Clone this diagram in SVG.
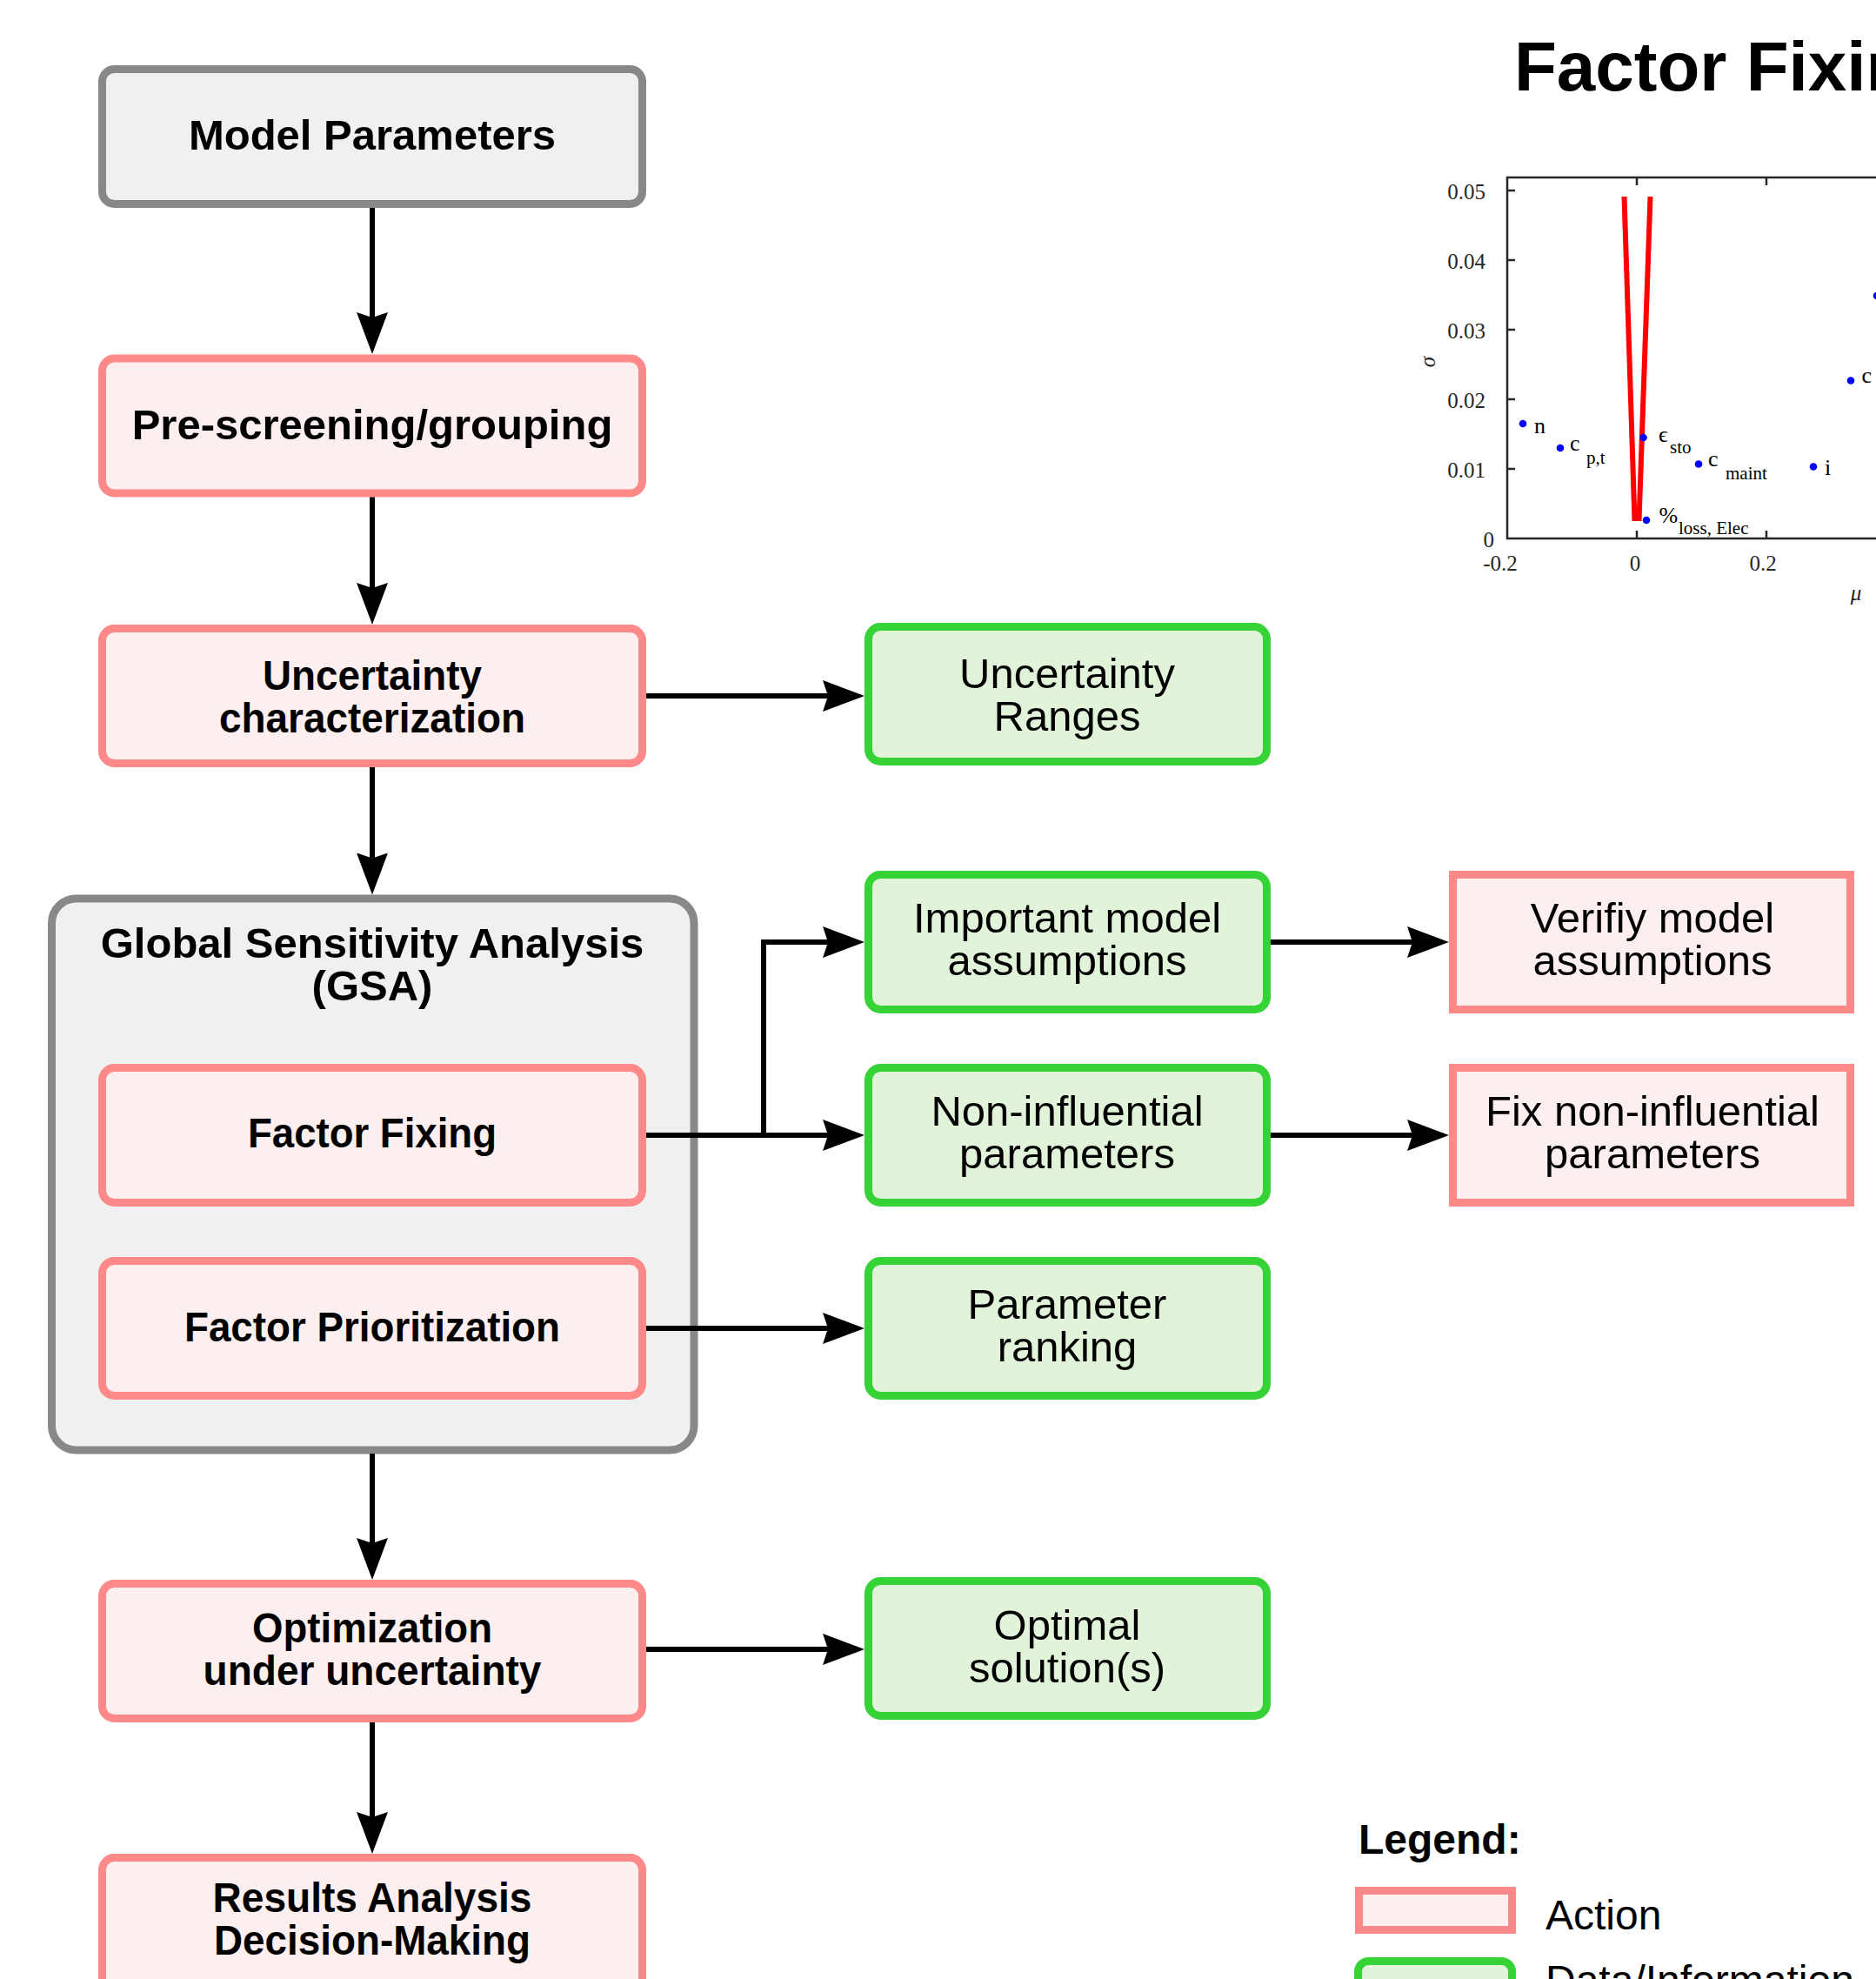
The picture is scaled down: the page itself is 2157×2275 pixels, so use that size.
<svg xmlns="http://www.w3.org/2000/svg" width="2157" height="2275" viewBox="0 0 2157 2275">
<style>
.act{fill:#fdefef;stroke:#ff8888;stroke-width:9}
.dat{fill:#e1f4d9;stroke:#36d336;stroke-width:9}
.grp{fill:#f0f0f0;stroke:#888888;stroke-width:9}
.b{font-family:"Liberation Sans",Arial,Helvetica,sans-serif;font-weight:bold;font-size:49px;text-anchor:middle;fill:#000}
.r{font-family:"Liberation Sans",Arial,Helvetica,sans-serif;font-size:49px;text-anchor:middle;fill:#000}
.conn{fill:none;stroke:#000;stroke-width:6;stroke-linejoin:miter}
.ax{font-family:"Liberation Serif","Times New Roman",serif;font-size:25px;fill:#262626}
.lb{font-family:"Liberation Serif","Times New Roman",serif;font-size:26px;fill:#000}
.sb{font-family:"Liberation Serif","Times New Roman",serif;font-size:21px;fill:#000}
.pt{fill:#0000ff}
</style>
<defs>
<marker id="ah" viewBox="0 0 48 36" refX="6" refY="18" markerWidth="48" markerHeight="36" markerUnits="userSpaceOnUse" orient="auto">
<path d="M0,0 L48,18 L0,36 L6,18 Z" fill="#000"/>
</marker>
</defs>
<rect width="2157" height="2275" fill="#fff"/>

<g id="chart">
<text x="1741" y="104" font-family="Liberation Sans,Arial,sans-serif" font-weight="bold" font-size="80">Factor Fixing</text>
<rect x="1733" y="204" width="600" height="415" fill="none" stroke="#262626" stroke-width="2.5"/>
<g stroke="#262626" stroke-width="2.5">
<line x1="1733" y1="219" x2="1742" y2="219"/>
<line x1="1733" y1="299" x2="1742" y2="299"/>
<line x1="1733" y1="379" x2="1742" y2="379"/>
<line x1="1733" y1="459" x2="1742" y2="459"/>
<line x1="1733" y1="539" x2="1742" y2="539"/>
<line x1="1882" y1="204" x2="1882" y2="213"/>
<line x1="1882" y1="619" x2="1882" y2="610"/>
<line x1="2031" y1="204" x2="2031" y2="213"/>
<line x1="2031" y1="619" x2="2031" y2="610"/>
</g>
<g class="ax" text-anchor="end">
<text x="1708" y="229">0.05</text>
<text x="1708" y="309">0.04</text>
<text x="1708" y="389">0.03</text>
<text x="1708" y="469">0.02</text>
<text x="1708" y="549">0.01</text>
<text x="1718" y="629">0</text>
</g>
<g class="ax" text-anchor="middle">
<text x="1725" y="656">-0.2</text>
<text x="1880" y="656">0</text>
<text x="2027" y="656">0.2</text>
</g>
<text class="ax" font-style="italic" text-anchor="middle" transform="translate(1650,416) rotate(-90)">σ</text>
<text class="ax" font-style="italic" text-anchor="middle" x="2134" y="690">μ</text>
<g stroke="#ff0000" stroke-width="6" fill="none">
<line x1="1867.5" y1="226" x2="1879.5" y2="599"/>
<line x1="1897.5" y1="226" x2="1884.5" y2="599"/>
</g>
<circle class="pt" cx="1751" cy="487" r="4.3"/>
<circle class="pt" cx="1794" cy="515" r="4.3"/>
<circle class="pt" cx="1889.5" cy="503" r="4.3"/>
<circle class="pt" cx="1953" cy="533.5" r="4.3"/>
<circle class="pt" cx="2085" cy="536.5" r="4.3"/>
<circle class="pt" cx="2128" cy="437.5" r="4.3"/>
<circle class="pt" cx="2158" cy="340" r="4.3"/>
<circle class="pt" cx="1893" cy="598" r="4.3"/>
<text class="lb" x="1764" y="498">n</text>
<text class="lb" x="1805" y="518">c</text>
<text class="sb" x="1824" y="533">p,t</text>
<text class="lb" x="1907" y="508">ϵ</text>
<text class="sb" x="1920" y="521">sto</text>
<text class="lb" x="1964" y="536">c</text>
<text class="sb" x="1984" y="550.5">maint</text>
<text class="lb" x="2098" y="546">i</text>
<text class="lb" x="2140.5" y="440">c</text>
<text class="lb" x="1907.5" y="600.5">%</text>
<text class="sb" x="1930" y="614">loss, Elec</text>
</g>

<g id="model-parameters">
<rect class="grp" x="117.5" y="79.5" width="621" height="155" rx="14"/>
<text class="b" x="428" y="172">Model Parameters</text>
</g>
<g id="pre-screening">
<rect class="act" x="117.5" y="412" width="621" height="155" rx="14"/>
<text class="b" x="428" y="505">Pre-screening/grouping</text>
</g>
<g id="uncertainty-characterization">
<rect class="act" x="117.5" y="722.5" width="621" height="155" rx="14"/>
<text class="b" x="428" y="793" textLength="252" lengthAdjust="spacingAndGlyphs">Uncertainty</text>
<text class="b" x="428" y="842" textLength="352" lengthAdjust="spacingAndGlyphs">characterization</text>
</g>
<g id="gsa">
<rect class="grp" x="59.5" y="1033" width="738.5" height="634" rx="28"/>
<text class="b" x="428" y="1101">Global Sensitivity Analysis</text>
<text class="b" x="428" y="1150">(GSA)</text>
</g>
<g id="factor-fixing">
<rect class="act" x="117.5" y="1227.5" width="621" height="155" rx="14"/>
<text class="b" x="428" y="1319" textLength="286" lengthAdjust="spacingAndGlyphs">Factor Fixing</text>
</g>
<g id="factor-prioritization">
<rect class="act" x="117.5" y="1449.5" width="621" height="155" rx="14"/>
<text class="b" x="428" y="1542" textLength="432" lengthAdjust="spacingAndGlyphs">Factor Prioritization</text>
</g>
<g id="optimization">
<rect class="act" x="117.5" y="1820.5" width="621" height="155" rx="14"/>
<text class="b" x="428" y="1888" textLength="276" lengthAdjust="spacingAndGlyphs">Optimization</text>
<text class="b" x="428" y="1937" textLength="389" lengthAdjust="spacingAndGlyphs">under uncertainty</text>
</g>
<g id="results-analysis">
<rect class="act" x="117.5" y="2135.5" width="621" height="155" rx="14"/>
<text class="b" x="428" y="2198" textLength="367" lengthAdjust="spacingAndGlyphs">Results Analysis</text>
<text class="b" x="428" y="2247" textLength="364" lengthAdjust="spacingAndGlyphs">Decision-Making</text>
</g>

<g id="uncertainty-ranges">
<rect class="dat" x="998.5" y="720.5" width="458" height="155" rx="14"/>
<text class="r" x="1227" y="791">Uncertainty</text>
<text class="r" x="1227" y="840">Ranges</text>
</g>
<g id="important-model-assumptions">
<rect class="dat" x="998.5" y="1005.5" width="458" height="155" rx="14"/>
<text class="r" x="1227" y="1072">Important model</text>
<text class="r" x="1227" y="1121">assumptions</text>
</g>
<g id="non-influential-parameters">
<rect class="dat" x="998.5" y="1227.5" width="458" height="155" rx="14"/>
<text class="r" x="1227" y="1294">Non-influential</text>
<text class="r" x="1227" y="1343">parameters</text>
</g>
<g id="parameter-ranking">
<rect class="dat" x="998.5" y="1449.5" width="458" height="155" rx="14"/>
<text class="r" x="1227" y="1516">Parameter</text>
<text class="r" x="1227" y="1565">ranking</text>
</g>
<g id="optimal-solutions">
<rect class="dat" x="998.5" y="1817.5" width="458" height="155" rx="14"/>
<text class="r" x="1227" y="1885">Optimal</text>
<text class="r" x="1227" y="1934">solution(s)</text>
</g>

<g id="verify-model-assumptions">
<rect class="act" x="1670.5" y="1005.5" width="457" height="155"/>
<text class="r" x="1900" y="1072">Verifiy model</text>
<text class="r" x="1900" y="1121">assumptions</text>
</g>
<g id="fix-non-influential">
<rect class="act" x="1670.5" y="1227.5" width="457" height="155"/>
<text class="r" x="1900" y="1294">Fix non-influential</text>
<text class="r" x="1900" y="1343">parameters</text>
</g>

<g id="legend">
<text x="1562" y="2131" font-family="Liberation Sans,Arial,sans-serif" font-weight="bold" font-size="48">Legend:</text>
<rect class="act" x="1562.5" y="2173.5" width="176" height="45"/>
<text x="1777" y="2218" font-family="Liberation Sans,Arial,sans-serif" font-size="48">Action</text>
<rect class="dat" x="1561.5" y="2254.5" width="177" height="45" rx="12"/>
<text x="1777" y="2293" font-family="Liberation Sans,Arial,sans-serif" font-size="48">Data/Information</text>
</g>

<g id="connectors">
<path class="conn" marker-end="url(#ah)" d="M428,239 V365"/>
<path class="conn" marker-end="url(#ah)" d="M428,571.5 V676"/>
<path class="conn" marker-end="url(#ah)" d="M428,882 V986.5"/>
<path class="conn" marker-end="url(#ah)" d="M428,1671 V1774"/>
<path class="conn" marker-end="url(#ah)" d="M428,1980 V2089"/>
<path class="conn" marker-end="url(#ah)" d="M743,800 H952"/>
<path class="conn" marker-end="url(#ah)" d="M743,1305 H952"/>
<path class="conn" marker-end="url(#ah)" d="M878,1305 V1083 H952"/>
<path class="conn" marker-end="url(#ah)" d="M743,1527 H952"/>
<path class="conn" marker-end="url(#ah)" d="M743,1896 H952"/>
<path class="conn" marker-end="url(#ah)" d="M1461,1083 H1624"/>
<path class="conn" marker-end="url(#ah)" d="M1461,1305 H1624"/>
</g>
</svg>
